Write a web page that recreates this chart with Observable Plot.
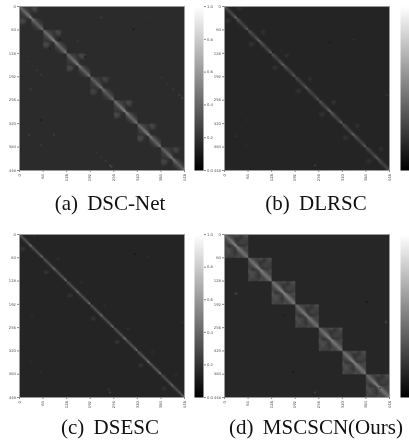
<!DOCTYPE html>
<html><head><meta charset="utf-8">
<script src="https://cdn.jsdelivr.net/npm/d3@7"></script>
<script src="https://cdn.jsdelivr.net/npm/@observablehq/plot@0.6"></script>
<style>
html,body{margin:0;padding:0;background:#fff;width:409px;height:442px;overflow:hidden}
#root{position:relative;width:409px;height:442px;overflow:hidden}
.p{position:absolute}
.p svg{display:block;background:transparent;overflow:visible;filter:blur(0.3px);max-width:none!important}
.cap{position:absolute;transform:translateX(-50%);white-space:nowrap;font-family:"Liberation Serif",serif;font-size:21px;line-height:24px;color:#111;word-spacing:4px;filter:blur(0.25px)}
</style></head><body><div id="root"></div>
<script>
const ticks = [0,64,128,192,256,320,384,448];
const barTicks = [0,0.2,0.4,0.6,0.8,1];
const captions = ["(a) DSC-Net","(b) DLRSC","(c) DSESC","(d) MSCSCN(Ours)"];
const backgrounds = [17,14,14,15];
const contrast = [0.95,0.68,0.8,0.9];

const templateA = [
[44,34,28,24,22,22,21,20,24,27,26,24,20,18,17,17],
[34,44,34,28,25,23,22,20,25,28,27,25,20,18,17,17],
[28,34,44,36,28,25,22,20,22,26,27,25,19,17,17,17],
[24,28,36,44,36,28,24,20,19,22,24,22,18,17,17,17],
[22,25,28,36,46,38,28,22,18,18,18,18,17,17,17,17],
[22,23,25,28,38,48,38,26,18,17,17,17,17,17,17,17],
[21,22,22,24,28,38,50,38,20,18,17,17,17,17,17,17],
[20,20,20,20,22,26,38,60,30,20,17,17,17,17,17,17],
[24,25,24,22,20,18,18,26,52,38,28,24,21,19,18,17],
[27,28,28,26,22,18,17,18,38,46,36,28,24,21,19,18],
[26,27,27,25,20,17,17,17,28,36,42,34,28,24,21,19],
[23,25,25,22,18,17,17,17,24,28,34,40,34,28,24,21],
[19,20,19,18,17,17,17,17,21,24,28,34,40,34,28,24],
[17,17,17,17,17,17,17,17,19,21,24,28,34,40,34,28],
[17,17,17,17,17,17,17,17,18,19,21,24,28,34,42,36],
[17,17,17,17,17,17,17,17,17,18,19,21,24,28,36,50]];

const templateB = [
[44,30,20,16,14,14,14,14,16,20,20,17,14,14,14,14],
[30,40,28,20,15,14,14,14,17,21,21,18,14,14,14,14],
[20,28,36,28,20,15,14,14,15,18,19,16,14,14,14,14],
[16,20,28,34,27,19,15,14,14,15,15,14,14,14,14,14],
[14,15,19,27,36,28,19,15,14,14,14,14,14,14,14,14],
[14,14,15,19,28,40,30,18,14,14,14,14,14,14,14,14],
[14,14,14,15,18,30,46,32,16,14,14,14,14,14,14,14],
[14,14,14,14,15,18,32,60,30,16,14,14,14,14,14,14],
[17,19,20,18,16,14,14,24,46,32,20,16,14,14,14,14],
[19,22,22,20,17,14,14,14,32,40,30,20,15,14,14,14],
[18,20,21,18,15,14,14,14,20,30,36,28,19,15,14,14],
[15,17,17,15,14,14,14,14,16,20,28,34,27,19,15,14],
[14,14,14,14,14,14,14,14,14,15,19,27,34,27,19,15],
[14,14,14,14,14,14,14,14,14,14,15,19,27,36,28,18],
[14,14,14,14,14,14,14,14,14,14,14,15,19,28,42,30],
[14,14,14,14,14,14,14,14,14,14,14,14,15,18,30,56]];

const templateC = [
[40,26,17,15,14,14,14,14,15,18,19,15,14,14,14,14],
[26,40,24,16,14,14,14,14,14,16,17,14,14,14,14,14],
[17,24,40,24,16,14,14,14,14,14,14,14,14,14,14,14],
[15,16,24,42,24,16,14,14,14,14,14,14,14,14,14,14],
[14,14,16,24,42,24,16,14,14,14,14,14,14,14,14,14],
[14,14,14,16,24,44,24,16,14,14,14,14,14,14,14,14],
[14,14,14,14,16,24,48,26,16,14,14,14,14,14,14,14],
[14,14,14,14,14,16,26,62,24,15,14,14,14,14,14,14],
[15,16,17,16,14,14,16,24,44,26,17,15,14,14,14,14],
[17,21,22,19,15,14,14,15,26,40,24,16,14,14,14,14],
[17,21,21,17,14,14,14,14,17,24,40,24,16,14,14,14],
[14,15,15,14,14,14,14,14,15,16,24,42,24,16,14,14],
[14,14,14,14,14,14,14,14,14,14,16,24,44,24,16,14],
[14,14,14,14,14,14,14,14,14,14,14,16,24,44,24,16],
[14,14,14,14,14,14,14,14,14,14,14,14,16,24,48,26],
[14,14,14,14,14,14,14,14,14,14,14,14,14,16,26,60]];

const templateD = [
[46,38,32,30,28,26,27,30,31,28,24,24,27,30,32,33],
[38,48,40,34,30,28,25,25,26,25,21,22,25,28,30,30],
[32,40,46,42,34,30,25,22,22,22,21,22,26,27,28,28],
[30,34,42,48,42,34,28,21,20,22,24,25,26,26,27,26],
[28,30,34,42,50,44,34,24,20,23,26,27,26,26,26,25],
[26,28,30,34,44,52,44,28,23,24,26,27,26,26,25,25],
[27,25,25,28,34,44,56,42,26,23,23,26,24,24,24,24],
[30,25,22,21,24,28,42,62,36,24,21,21,21,22,24,26],
[32,27,24,22,23,24,26,36,58,44,34,28,26,26,28,30],
[35,30,30,28,28,25,25,26,44,52,44,36,30,28,28,30],
[30,31,31,30,28,26,23,22,34,44,50,44,36,30,28,28],
[27,30,32,30,27,26,23,21,28,36,44,48,44,36,30,28],
[26,30,31,30,27,25,22,21,26,30,36,44,46,44,36,32],
[27,28,29,28,28,27,23,22,26,28,30,36,44,44,44,36],
[28,28,26,25,26,26,25,23,28,28,28,30,36,44,46,44],
[31,27,26,26,26,24,26,27,31,30,28,28,32,36,44,50]];

const templates = [templateA,templateB,templateC,templateD];

const gainsA = [1,1.12,1.05,0.9,1.12,1.08,0.95];
const gainsB = [1,1.05,1,0.9,1.1,1,0.9];
const gainsC = [1,1,1,1,1.05,1.1,0.95];
const gainsD = [1,1.02,1.08,0.98,1,1.05,1];
const gains = [gainsA,gainsB,gainsC,gainsD];

// [x, y, value in percent]
const specksA = [[311,60,8],[57,311,8],[30,225,28],[25,350,30],[92,350,27],[158,93,26],[220,28,26],[347,26,24],[59,378,26],
 [384,192,22],[400,208,23],[416,224,24],[432,240,27],[440,248,30],
 [208,398,22],[220,410,23],[232,422,26],[244,434,34],[248,438,32],
 [20,148,21],[32,160,22],[44,172,24],[56,184,25],[108,88,8],[80,112,9],[176,136,8]];
const specksB = [[245,434,30],[286,98,7],[60,310,20],[30,352,22],[56,378,20],[440,243,24],[350,90,20],[152,120,20]];
const specksC = [[315,55,6],[245,432,30],[240,426,24],[30,350,20],[32,224,22],[440,243,20],[56,378,20],[350,60,20]];
const specksD = [[245,432,30],[186,379,6],[385,185,6],[30,160,28],[34,160,26],[439,243,30],[439,239,26],[160,220,9],[420,420,22]];
const specks = [specksA,specksB,specksC,specksD];

const heatPos = [
 {left:0,top:0,h:164,w:165,l:19},
 {left:205,top:0,h:164,w:165,l:19},
 {left:0,top:228,h:163,w:165,l:19},
 {left:205,top:228,h:163,w:165,l:19}];
const barPos = [
 {left:194,top:0,h:164,labels:true},
 {left:400,top:0,h:164,labels:false},
 {left:194,top:228,h:163,labels:true},
 {left:400,top:228,h:163,labels:false}];
const capPos = [[110,191],[316,191],[110,415],[316,415]];

const N = 112, BLOCK = 16;
const tickFont = 3.8;
const gray = {type:"linear",domain:[0,1],range:["#000","#fff"]};
const root = document.getElementById("root");
function place(node,left,top){
  const d=document.createElement("div");d.className="p";d.style.left=left+"px";d.style.top=top+"px";
  d.appendChild(node);root.appendChild(d);
}
function grid(i){
  const bg=backgrounds[i],t=templates[i],g=gains[i],k=contrast[i];
  const v=new Array(N*N).fill(bg/100);
  for(let r=0;r<N;r++)for(let c=0;c<N;c++){
    const br=Math.floor(r/BLOCK),bc=Math.floor(c/BLOCK);
    if(br===bc) v[r*N+c]=(bg+(t[r%BLOCK][c%BLOCK]-bg)*g[br]*k)/100;
  }
  for(const [x,y,p] of specks[i]) v[Math.floor(y/4)*N+Math.floor(x/4)]=p/100;
  return v;
}
templates.forEach((_,i)=>{
  const p=heatPos[i];
  place(Plot.plot({
    width:p.l+p.w+4,height:6+p.h+14,
    marginLeft:p.l,marginRight:4,marginTop:6,marginBottom:14,
    style:{fontFamily:"DejaVu Sans",fontSize:tickFont+"px",color:"#555",background:"transparent"},
    x:{domain:[0,448]},y:{domain:[0,448],reverse:true},color:gray,
    marks:[
      Plot.raster(grid(i),{width:N,height:N,x1:0,y1:0,x2:448,y2:448,fill:d=>d}),
      Plot.frame({stroke:"#9a9a9a",strokeWidth:1}),
      Plot.axisX({ticks,tickSize:2,tickPadding:1.5,tickRotate:-90,label:null,stroke:"#888",fontSize:tickFont}),
      Plot.axisY({ticks,tickSize:2,tickPadding:1.5,label:null,stroke:"#888",fontSize:tickFont})
    ]
  }),p.left,p.top);

  const b=barPos[i];
  const marksBar=[
    Plot.raster(d3.range(256).map(k=>k/255),{width:1,height:256,x1:0,x2:1,y1:0,y2:1,fill:d=>d}),
    Plot.axisY({anchor:"right",ticks:barTicks,tickSize:2,tickPadding:1.5,tickFormat:b.labels?".1f":()=>"",label:null,stroke:"#888",fontSize:tickFont})
  ];
  place(Plot.plot({
    width:b.labels?9+12:11,height:6+b.h+6,
    marginLeft:0,marginRight:b.labels?12:2,marginTop:6,marginBottom:6,
    style:{fontFamily:"DejaVu Sans",fontSize:tickFont+"px",color:"#555",background:"transparent"},
    x:{domain:[0,1],axis:null},y:{domain:[0,1]},color:gray,
    marks:marksBar
  }),b.left,b.top);

  const c=document.createElement("div");c.className="cap";c.textContent=captions[i];
  c.style.left=capPos[i][0]+"px";c.style.top=capPos[i][1]+"px";root.appendChild(c);
});
</script></body></html>
